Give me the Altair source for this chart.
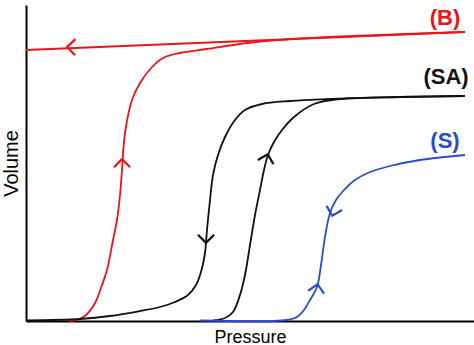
import altair as alt
import pandas as pd

# Curves (arbitrary pressure / volume units)
b_up_x = [44, 52, 60, 69, 76, 81, 87, 91, 94, 96, 99, 106, 114, 126, 137, 154, 181, 214, 234, 274, 439]
b_up_y = [0, 1.5, 6, 18, 36, 51, 81, 101, 126, 151, 188, 221, 238, 254, 263, 268, 272, 277, 279.5, 282.5, 289]
b_dn_x = [439, 0]
b_dn_y = [289, 271]

sa_dn_x = [439, 374, 304, 264, 236, 219, 209, 199, 192, 187, 184, 181, 179, 175, 170, 162, 149, 134, 114, 84, 54, 0]
sa_dn_y = [225, 224, 222, 220, 217, 211, 201, 184, 166, 146, 121, 91, 68, 49, 36, 26, 19, 14, 10, 5, 2, 0.5]
sa_up_x = [187, 199, 207, 214, 219, 224, 229, 234, 238, 242, 248, 256, 268, 288, 314, 374, 439]
sa_up_y = [0.5, 3, 9, 26, 46, 76, 106, 131, 151, 166, 179, 191, 204, 217, 222, 224, 225]

s_x = [174, 261, 271, 278, 284, 291, 295, 299, 304, 310, 318, 329, 344, 364, 394, 439]
s_y = [0.5, 1, 4, 11, 21, 34, 56, 84, 108, 121, 131, 141, 149, 155, 161, 166]

# Arrow heads
arrow_x = [44, 96, 180, 241, 291, 307]
arrow_y = [274, 159, 81, 164, 34, 108]
arrow_angle = [272, 0, 180, 15, 10, 195]
arrow_path = ["B", "B", "SA", "SA", "S", "S"]

# Labels
label_text = ["(B)", "(SA)", "(S)"]
label_x = [419, 420, 419]
label_y = [303, 244, 180]
label_series = ["B", "SA", "S"]

series_domain = ["B", "SA", "S"]
series_colors = ["#e8151b", "#111111", "#2b4ad3"]

rows = []
for name, ser, xs, ys in [
    ("B_up", "B", b_up_x, b_up_y),
    ("B_dn", "B", b_dn_x, b_dn_y),
    ("SA_dn", "SA", sa_dn_x, sa_dn_y),
    ("SA_up", "SA", sa_up_x, sa_up_y),
    ("S", "S", s_x, s_y),
]:
    for i, (x, y) in enumerate(zip(xs, ys)):
        rows.append({"path": name, "series": ser, "x": x, "y": y, "i": i})
curves = pd.DataFrame(rows)

arrows = pd.DataFrame({"x": arrow_x, "y": arrow_y, "angle": arrow_angle, "series": arrow_path})
labels = pd.DataFrame({"x": label_x, "y": label_y, "text": label_text, "series": label_series})

xscale = alt.Scale(domain=[0, 448], nice=False, zero=False)
yscale = alt.Scale(domain=[0, 316], nice=False, zero=False)
color = alt.Color("series:N", scale=alt.Scale(domain=series_domain, range=series_colors), legend=None)

xaxis = alt.Axis(ticks=False, labels=False, grid=False, domainColor="black", domainWidth=2,
                 title="Pressure", titleFontSize=18, titleFont="Liberation Sans",
                 titleFontWeight="normal", titleColor="black", titlePadding=7)
yaxis = alt.Axis(ticks=False, labels=False, grid=False, domainColor="black", domainWidth=2,
                 title="Volume", titleFontSize=20, titleFont="Liberation Sans",
                 titleFontWeight="normal", titleColor="black", titlePadding=5)

lines = alt.Chart(curves).mark_line(interpolate="catmull-rom", strokeWidth=1.8).encode(
    x=alt.X("x:Q", scale=xscale, axis=xaxis),
    y=alt.Y("y:Q", scale=yscale, axis=yaxis),
    detail="path:N",
    order="i:Q",
    color=color,
)

heads = alt.Chart(arrows).mark_point(
    shape="M-1,0.65L0,-0.35L1,0.65", filled=False, strokeWidth=2.2, size=260, opacity=1
).encode(
    x=alt.X("x:Q", scale=xscale),
    y=alt.Y("y:Q", scale=yscale),
    angle=alt.Angle("angle:Q", scale=None),
    color=color,
)

texts = alt.Chart(labels).mark_text(
    font="Liberation Sans", fontSize=22, fontWeight="bold", align="center", baseline="middle"
).encode(
    x=alt.X("x:Q", scale=xscale),
    y=alt.Y("y:Q", scale=yscale),
    text="text:N",
    color=color,
)

chart = alt.layer(lines, heads, texts).properties(
    width=448, height=316,
    autosize=alt.AutoSizeParams(type="none"),
    padding={"left": 26, "top": 5, "right": 0, "bottom": 24},
    background="white",
).configure_view(stroke=None)

chart.save("out.html", embed_options={"renderer": "svg", "actions": False})
